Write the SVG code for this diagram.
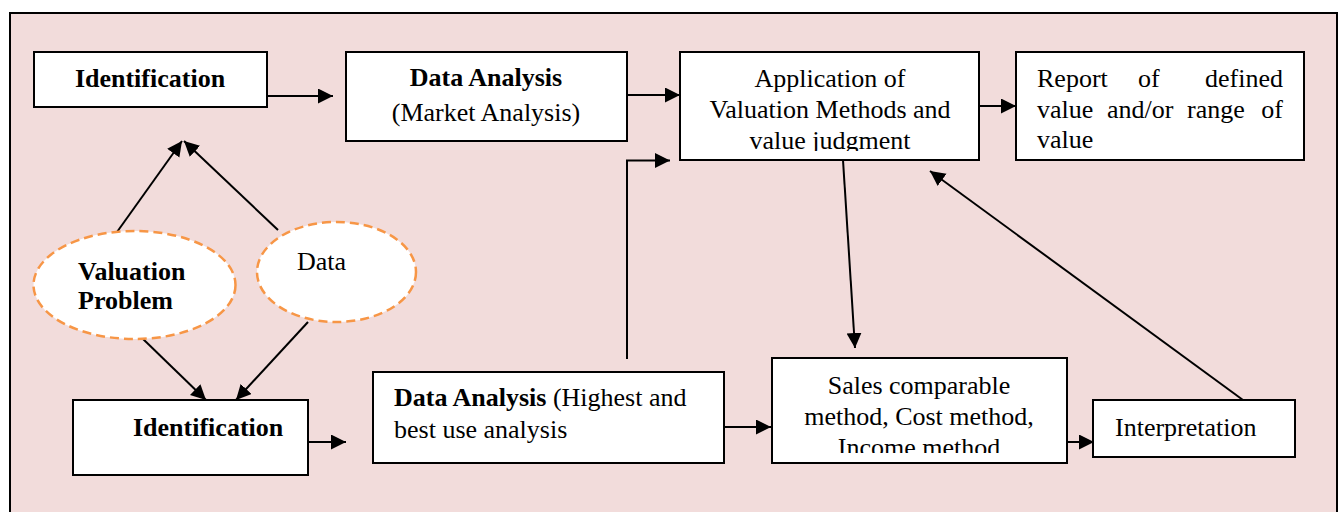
<svg xmlns="http://www.w3.org/2000/svg" width="1342" height="512" viewBox="0 0 1342 512">
  <style>
    .box { fill: #ffffff; stroke: #000000; stroke-width: 2; }
    .oval { fill: #ffffff; stroke: #F79646; stroke-width: 2.5; stroke-dasharray: 9 5; }
    .t { font-family: "Liberation Serif", "Times New Roman", serif; font-size: 26px; fill: #000000; }
    .b { font-weight: bold; }
    .mid { text-anchor: middle; }
    .end { text-anchor: end; }
    .link { fill: none; stroke: #000000; stroke-width: 2; }
  </style>
  <defs>
    <marker id="arrow" markerUnits="userSpaceOnUse" markerWidth="16" markerHeight="16" refX="15" refY="7.5" orient="auto">
      <path d="M0,0 L15,7.5 L0,15 Z" fill="#000000"/>
    </marker>
    <clipPath id="clipApp"><rect x="680" y="52" width="299" height="99"/></clipPath>
    <clipPath id="clipSales"><rect x="772" y="358" width="295" height="95"/></clipPath>
  </defs>

  <!-- page background and frame -->
  <rect width="1342" height="512" fill="#ffffff"/>
  <rect x="10" y="13" width="1327" height="520" fill="#F2DCDB" stroke="#000000" stroke-width="2"/>

  <!-- connectors -->
  <g id="connectors">
    <line class="link" x1="267" y1="96" x2="333" y2="96" marker-end="url(#arrow)"/>
    <line class="link" x1="627" y1="95" x2="680" y2="95" marker-end="url(#arrow)"/>
    <line class="link" x1="979" y1="106" x2="1016" y2="106" marker-end="url(#arrow)"/>
    <line class="link" x1="117" y1="232" x2="182" y2="141" marker-end="url(#arrow)"/>
    <line class="link" x1="278" y1="230" x2="184" y2="141" marker-end="url(#arrow)"/>
    <line class="link" x1="142" y1="338" x2="206" y2="400" marker-end="url(#arrow)"/>
    <line class="link" x1="308" y1="322" x2="236" y2="400" marker-end="url(#arrow)"/>
    <line class="link" x1="307" y1="442" x2="346" y2="442" marker-end="url(#arrow)"/>
    <line class="link" x1="724" y1="427" x2="771" y2="427" marker-end="url(#arrow)"/>
    <polyline class="link" points="627,359 627,160.5 670,160.5" marker-end="url(#arrow)"/>
    <line class="link" x1="843" y1="160" x2="855" y2="348" marker-end="url(#arrow)"/>
    <line class="link" x1="1056" y1="442" x2="1094" y2="442" marker-end="url(#arrow)"/>
    <line class="link" x1="1243" y1="400" x2="930" y2="171" marker-end="url(#arrow)"/>
  </g>

  <g id="identification-top">
    <rect class="box" x="34" y="52" width="233" height="55"/>
    <text class="t b mid" x="150" y="87">Identification</text>
  </g>

  <g id="market-analysis">
    <rect class="box" x="346" y="52" width="281" height="89"/>
    <text class="t b mid" x="486" y="86">Data Analysis</text>
    <text class="t mid" x="486" y="121">(Market Analysis)</text>
  </g>

  <g id="valuation-methods">
    <rect class="box" x="680" y="52" width="299" height="108"/>
    <g clip-path="url(#clipApp)">
      <text class="t mid" x="830" y="87">Application of</text>
      <text class="t mid" x="830" y="118">Valuation Methods and</text>
      <text class="t mid" x="830" y="149">value judgment</text>
    </g>
  </g>

  <g id="report">
    <rect class="box" x="1016" y="52" width="288" height="108"/>
    <!-- justified lines: words placed at their spread positions -->
    <text class="t" y="87"><tspan x="1037">Report</tspan><tspan x="1138">of</tspan><tspan x="1283" text-anchor="end">defined</tspan></text>
    <text class="t" y="118"><tspan x="1037">value</tspan><tspan x="1107">and/or</tspan><tspan x="1187">range</tspan><tspan x="1283" text-anchor="end">of</tspan></text>
    <text class="t" x="1037" y="148">value</text>
  </g>

  <g id="valuation-problem">
    <ellipse class="oval" cx="134.5" cy="285" rx="101" ry="54"/>
    <text class="t b" x="78" y="280">Valuation</text>
    <text class="t b" x="78" y="309">Problem</text>
  </g>

  <g id="data">
    <ellipse class="oval" cx="336.5" cy="272" rx="79.5" ry="50"/>
    <text class="t" x="297" y="270">Data</text>
  </g>

  <g id="identification-bottom">
    <rect class="box" x="73" y="400" width="235" height="75"/>
    <text class="t b" x="133" y="436">Identification</text>
  </g>

  <g id="highest-best-use">
    <rect class="box" x="373" y="372" width="351" height="91"/>
    <text class="t" x="394" y="406"><tspan class="b">Data Analysis</tspan> (Highest and</text>
    <text class="t" x="394" y="438">best use analysis</text>
  </g>

  <g id="methods">
    <rect class="box" x="772" y="358" width="295" height="105"/>
    <g clip-path="url(#clipSales)">
      <text class="t mid" x="919" y="394">Sales comparable</text>
      <text class="t mid" x="919" y="425">method, Cost method,</text>
      <text class="t mid" x="919" y="456">Income method</text>
    </g>
  </g>

  <g id="interpretation">
    <rect class="box" x="1093" y="400" width="202" height="57"/>
    <text class="t" x="1115" y="436">Interpretation</text>
  </g>
</svg>
